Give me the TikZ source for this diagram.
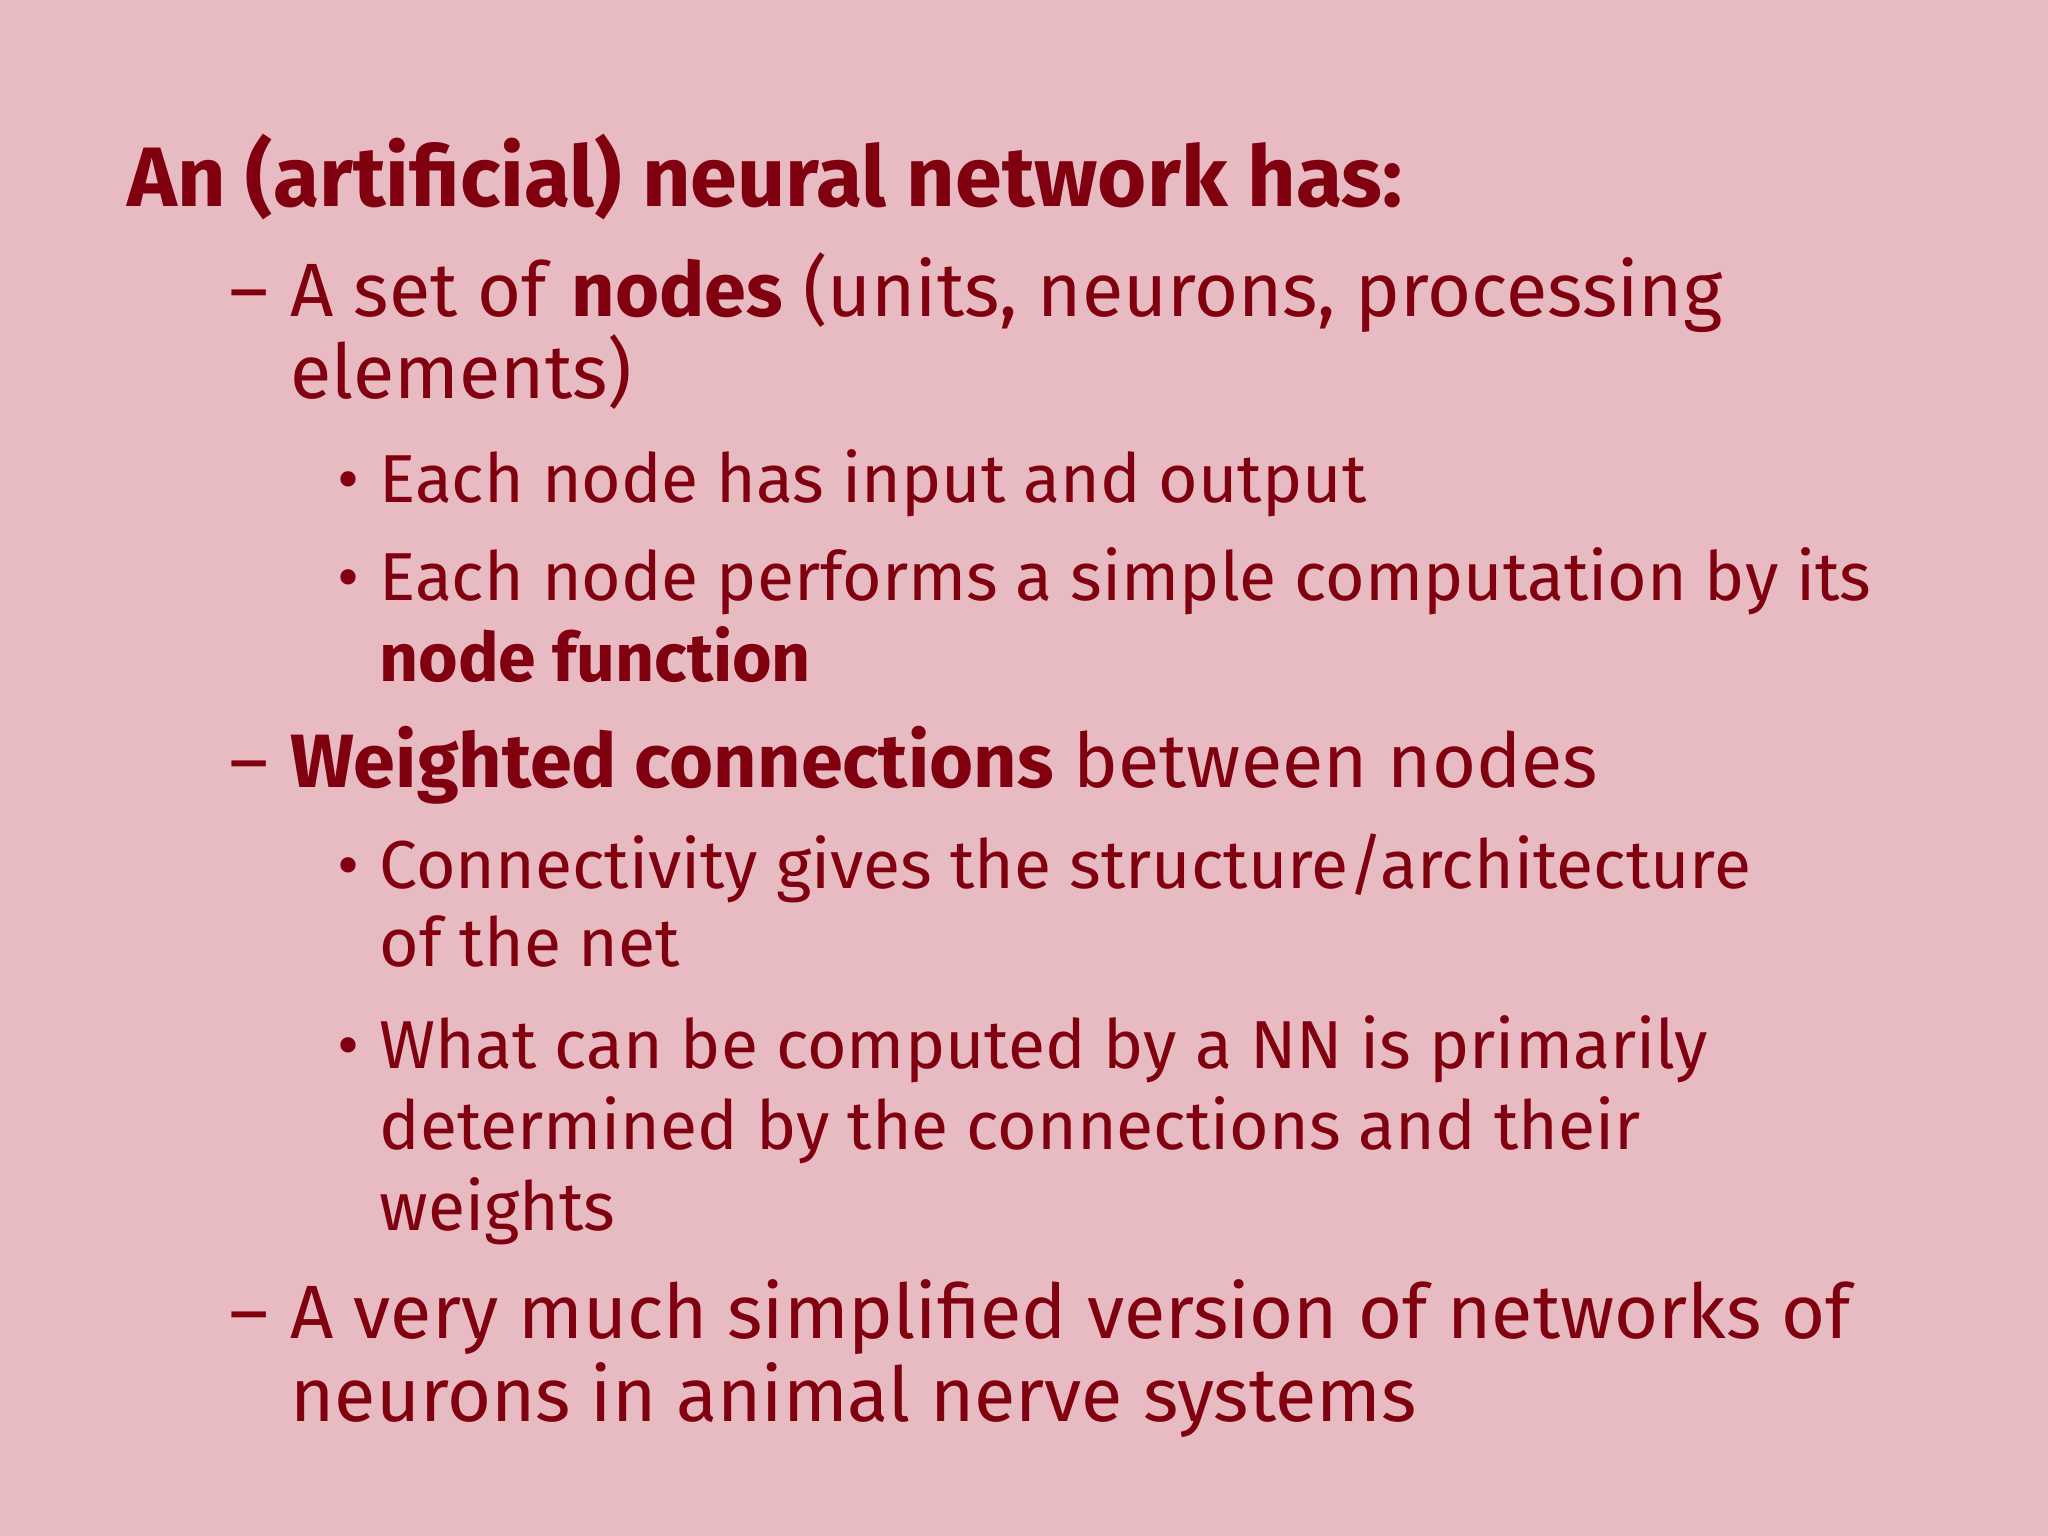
\documentclass[tikz,border=0pt]{standalone}
\usepackage{fontspec}
\setmainfont{Fira Sans}
\begin{document}
\begin{tikzpicture}[x=0.013061cm,y=-0.013061cm,
  ttl/.style={anchor=base west,inner sep=0pt,text=txt,font=\fontsize{24pt}{28pt}\selectfont\bfseries},
  big/.style={anchor=base west,inner sep=0pt,text=txt,font=\fontsize{21.5pt}{25pt}\selectfont},
  small/.style={anchor=base west,inner sep=0pt,text=txt,font=\fontsize{19.3pt}{23pt}\selectfont}]
\definecolor{bg}{RGB}{232,186,194}
\definecolor{txt}{RGB}{128,0,16}
\fill[bg] (0,0) rectangle (1568,1176);
\useasboundingbox (0,0) rectangle (1568,1176);
\node[ttl] (t) at (97,158) {An (artificial) neural network has:};
\node[big] (d1) at (175,242) {–};
\node[big] (l1) at (222,242) {A set of \textbf{nodes} (units, neurons, processing};
\node[big] (l1b) at (222,305) {elements)};
\node[small] (b1) at (258,385) {•};
\node[small] (s1) at (290,385) {Each node has input and output};
\node[small] (b2) at (258,460) {•};
\node[small] (s2) at (290,460) {Each node performs a simple computation by its};
\node[small] (s2b) at (290,522) {\textbf{node function}};
\node[big] (d2) at (175,603) {–};
\node[big] (l2) at (222,603) {\textbf{Weighted connections} between nodes};
\node[small] (b3) at (258,680) {•};
\node[small] (s3) at (290,680) {Connectivity gives the structure/architecture};
\node[small] (s3b) at (290,740) {of the net};
\node[small] (b4) at (258,818) {•};
\node[small] (s4) at (290,818) {What can be computed by a NN is primarily};
\node[small] (s4b) at (290,880) {determined by the connections and their};
\node[small] (s4c) at (290,942) {weights};
\node[big] (d3) at (175,1025) {–};
\node[big] (l3) at (222,1025) {A very much simplified version of networks of};
\node[big] (l3b) at (222,1088) {neurons in animal nerve systems};
\end{tikzpicture}
\end{document}
